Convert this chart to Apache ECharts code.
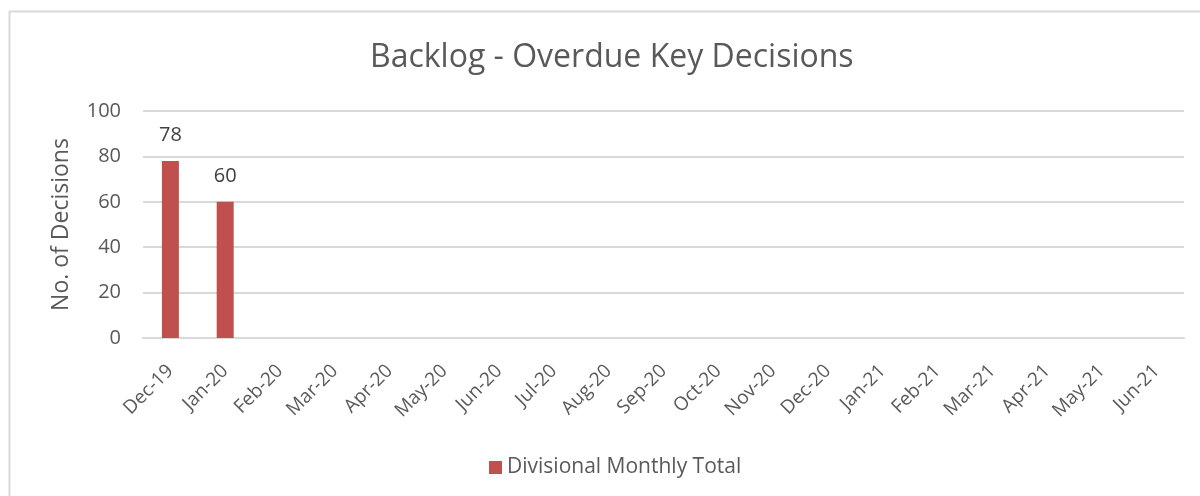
<!DOCTYPE html>
<html>
<head>
<meta charset="utf-8">
<script src="https://cdn.jsdelivr.net/npm/echarts@6/dist/echarts.min.js"></script>
<style>
  html, body { margin: 0; padding: 0; background: #fff; }
  #main { width: 1200px; height: 496px; }
</style>
</head>
<body>
<div id="main"></div>
<script>
// months shown on the x axis
var months = ['Dec-19', 'Jan-20', 'Feb-20', 'Mar-20', 'Apr-20', 'May-20', 'Jun-20', 'Jul-20',
  'Aug-20', 'Sep-20', 'Oct-20', 'Nov-20', 'Dec-20', 'Jan-21', 'Feb-21', 'Mar-21',
  'Apr-21', 'May-21', 'Jun-21'];
// backlog per month, only the first two have values
var monthlyTotal = [78, 60, '-', '-', '-', '-', '-', '-', '-', '-', '-', '-', '-', '-', '-', '-', '-', '-', '-'];
var yTicks = [0, 20, 40, 60, 80, 100];

var myChart = echarts.init(document.getElementById('main'));

var font = '"Open Sans", "Noto Sans", sans-serif';

var option = {
  backgroundColor: '#fff',
  animation: false,
  textStyle: { fontFamily: font },
  title: {
    text: 'Backlog - Overdue Key Decisions',
    left: 365,
    top: 37,
    textStyle: { fontFamily: font, fontSize: 32, fontWeight: 'normal', color: '#595959' }
  },
  graphic: [{
    type: 'rect',
    shape: { x: 9.5, y: 11.5, width: 1400, height: 700 },
    style: { fill: 'none', stroke: '#d9d9d9', lineWidth: 2 },
    silent: true
  }],
  legend: {
    bottom: 13,
    left: 484,
    itemWidth: 13,
    itemHeight: 13,
    itemGap: 5,
    icon: 'rect',
    textStyle: { fontFamily: font, fontSize: 21, color: '#595959' },
    data: ['Divisional Monthly Total']
  },
  grid: {
    left: 143,
    right: 16,
    top: 111,
    bottom: 158
  },
  xAxis: {
    type: 'category',
    data: months,
    axisLine: { lineStyle: { color: '#d9d9d9', width: 2 } },
    axisTick: { show: false },
    axisLabel: {
      rotate: 45,
      interval: 0,
      margin: 30,
      fontFamily: font,
      fontSize: 19,
      color: '#595959'
    }
  },
  yAxis: {
    type: 'value',
    min: yTicks[0],
    max: yTicks[yTicks.length - 1],
    interval: 20,
    name: 'No. of Decisions',
    nameLocation: 'middle',
    nameGap: 70,
    nameTextStyle: { fontFamily: font, fontSize: 23, color: '#595959' },
    axisLine: { show: false },
    axisTick: { show: false },
    axisLabel: { fontFamily: font, fontSize: 20, color: '#595959', margin: 22 },
    splitLine: { lineStyle: { color: '#d9d9d9', width: 2 } }
  },
  series: [{
    name: 'Divisional Monthly Total',
    type: 'bar',
    data: monthlyTotal,
    barWidth: 17,
    itemStyle: { color: '#c0504d' },
    label: {
      show: true,
      position: 'top',
      distance: 16,
      fontFamily: font,
      fontSize: 20,
      color: '#404040'
    }
  }]
};

myChart.setOption(option);
</script>
</body>
</html>
